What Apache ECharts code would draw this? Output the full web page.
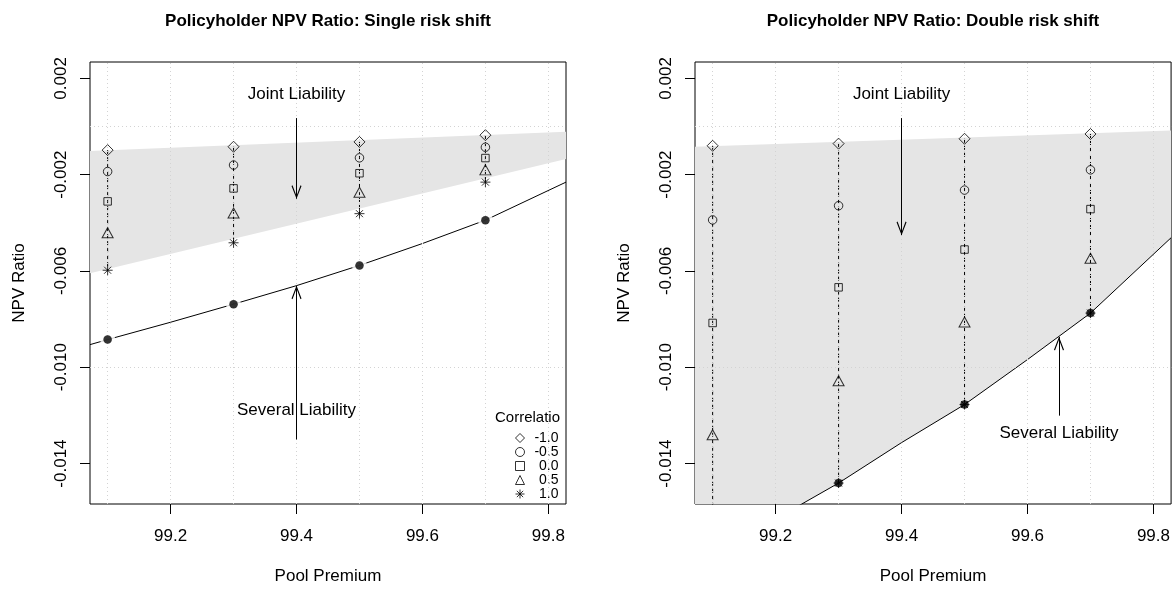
<!DOCTYPE html>
<html>
<head>
<meta charset="utf-8">
<title>Policyholder NPV Ratio</title>
<script src="https://cdn.jsdelivr.net/npm/echarts@6/dist/echarts.min.js"></script>
<style>
  html, body { margin: 0; padding: 0; background: #fff; }
  #chart { width: 1173px; height: 590px; }
</style>
</head>
<body>
<div id="chart"></div>
<script>
// pool premiums where the ratios were evaluated
var premiums = [99.1, 99.3, 99.5, 99.7];
var corrLabels = ['-1.0', '-0.5', '0.0', '0.5', '1.0'];
var xTicks = [99.2, 99.4, 99.6, 99.8];
var yTicks = [0.002, -0.002, -0.006, -0.010, -0.014];
var xGrid = [99.1, 99.2, 99.3, 99.4, 99.5, 99.6, 99.7, 99.8];
var yGrid = [0, -0.005, -0.010, -0.015];

// single risk shift, one array per correlation
var singleM10 = [-0.00098, -0.00084, -0.00064, -0.00036];
var singleM05 = [-0.00187, -0.00160, -0.00130, -0.00086];
var single00 = [-0.00311, -0.00257, -0.00194, -0.00131];
var single05 = [-0.00441, -0.00359, -0.00273, -0.00180];
var single10 = [-0.00597, -0.00483, -0.00362, -0.00231];
var singleSeveral = [-0.00885, -0.00738, -0.00577, -0.00389];
var singleCurveX = [99.072, 99.1, 99.2, 99.3, 99.4, 99.5, 99.6, 99.7, 99.828];
var singleCurveY = [-0.00906, -0.00885, -0.00813, -0.00738, -0.00661, -0.00577, -0.00486, -0.00389, -0.00231];
// joint liability band (single)
var singleBandX = [99.072, 99.828];
var singleBandTop = [-0.00102, -0.00022];
var singleBandBottom = [-0.00609, -0.00135];

// double risk shift
var doubleM10 = [-0.00080, -0.00071, -0.00051, -0.00031];
var doubleM05 = [-0.00388, -0.00329, -0.00264, -0.00180];
var double00 = [-0.00816, -0.00668, -0.00511, -0.00343];
var double05 = [-0.01280, -0.01056, -0.00812, -0.00547];
var double10 = [-0.01850, -0.01481, -0.01155, -0.00775];
var doubleSeveral = [-0.01850, -0.01481, -0.01155, -0.00775];
var doubleCurveX = [99.2, 99.3, 99.4, 99.5, 99.6, 99.7, 99.828];
var doubleCurveY = [-0.01630, -0.01481, -0.01313, -0.01155, -0.00968, -0.00775, -0.00462];
var doubleBandX = [99.072, 99.828];
var doubleBandTop = [-0.00084, -0.00017];
var doubleBandBottomX = [99.072, 99.2, 99.3, 99.4, 99.5, 99.6, 99.7, 99.828];
var doubleBandBottomY = [-0.01630, -0.01630, -0.01481, -0.01313, -0.01155, -0.00968, -0.00775, -0.00462];

var xMin = 99.072, xMax = 99.828, yMin = -0.01568, yMax = 0.00268;

var FONT = 'Liberation Sans, Arial, Helvetica, sans-serif';
var starPath = 'path://M0,-5L0,5M-5,0L5,0M-3.5,-3.5L3.5,3.5M-3.5,3.5L3.5,-3.5';
var headPath = 'path://M0,-12.5L0.01,-12.5L0,-12.49Z M0,0L5,12L4,12.6L0,2.6L-4,12.6L-5,12Z';
var corrSymbols = [
  { symbol: 'diamond', size: 11 },
  { symbol: 'circle', size: 8.5 },
  { symbol: 'rect', size: 7.5 },
  { symbol: 'triangle', size: [11, 10] },
  { symbol: starPath, size: 10 }
];

function hollow() {
  return { color: 'rgba(0,0,0,0)', borderColor: '#000', borderWidth: 1 };
}

function panel(gi, p) {
  var out = [];
  var ax = { xAxisIndex: gi, yAxisIndex: gi };
  // grey band between the liability regimes
  out.push(Object.assign({
    type: 'custom', clip: true, silent: true, z: 1,
    data: [[99.5, -0.005]],
    renderItem: function (params, api) {
      var pts = [];
      for (var k = 0; k < p.topX.length; k++) pts.push(api.coord([p.topX[k], p.topY[k]]));
      for (var j = p.botX.length - 1; j >= 0; j--) pts.push(api.coord([p.botX[j], p.botY[j]]));
      var cs = params.coordSys;
      return {
        type: 'polygon', shape: { points: pts },
        style: { fill: '#e5e5e5' },
        clipPath: { type: 'rect', shape: { x: cs.x, y: cs.y, width: cs.width, height: cs.height } }
      };
    }
  }, ax));
  // dotted grid
  out.push(Object.assign({
    type: 'line', data: [], silent: true, z: 2,
    markLine: {
      silent: true, symbol: 'none', label: { show: false },
      lineStyle: { color: '#d3d3d3', type: [1, 3], width: 1 },
      data: xGrid.map(function (v) { return { xAxis: v }; })
        .concat(yGrid.map(function (v) { return { yAxis: v }; }))
    }
  }, ax));
  // dashed vertical connectors
  premiums.forEach(function (x, i) {
    out.push(Object.assign({
      type: 'line', silent: true, symbol: 'none', z: 3,
      data: p.corr.map(function (arr) { return [x, arr[i]]; }),
      lineStyle: { color: '#000', width: 1, type: [4, 3] }
    }, ax));
  });
  // several liability curve
  out.push(Object.assign({
    type: 'line', silent: true, symbol: 'none', z: 3,
    data: p.curveX.map(function (x, i) { return [x, p.curveY[i]]; }),
    lineStyle: { color: '#000', width: 1 }
  }, ax));
  if (p.ring) {
    out.push(Object.assign({
      type: 'scatter', silent: true, symbol: 'circle', symbolSize: 15, z: 4,
      data: premiums.map(function (x, i) { return [x, p.several[i]]; }),
      itemStyle: { color: '#fff' }
    }, ax));
  }
  out.push(Object.assign({
    type: 'scatter', silent: true, symbol: 'circle', symbolSize: 8.5, z: 5,
    data: premiums.map(function (x, i) { return [x, p.several[i]]; }),
    itemStyle: { color: '#000' }
  }, ax));
  // correlation markers
  p.corr.forEach(function (arr, c) {
    out.push(Object.assign({
      type: 'scatter', name: corrLabels[c], z: 6,
      symbol: corrSymbols[c].symbol, symbolSize: corrSymbols[c].size, symbolKeepAspect: true,
      data: premiums.map(function (x, i) { return [x, arr[i]]; }),
      itemStyle: hollow()
    }, ax));
  });
  // arrows and their labels
  out.push(Object.assign({
    type: 'line', data: [], silent: true, z: 7,
    markLine: {
      silent: true, symbol: ['none', headPath], symbolSize: [10, 27],
      label: { show: false },
      lineStyle: { color: '#000', width: 1, type: 'solid' },
      data: p.arrows.map(function (a) {
        return [{ coord: [a[0], a[1]] }, { coord: [a[0], a[2]] }];
      })
    },
    markPoint: {
      silent: true, symbol: 'circle', symbolSize: 0,
      label: { show: true, position: 'inside', formatter: '{b}', fontSize: 17, color: '#000', fontFamily: FONT },
      data: p.notes.map(function (n) { return { name: n[0], coord: [n[1], n[2]] }; })
    }
  }, ax));
  return out;
}

function xAx(gi) {
  return {
    type: 'value', gridIndex: gi, min: xMin, max: xMax, position: 'bottom',
    name: 'Pool Premium', nameLocation: 'middle', nameGap: 64,
    nameTextStyle: { fontSize: 17, color: '#000', fontFamily: FONT },
    axisLine: { show: false, onZero: false },
    axisTick: { show: true, length: 10, customValues: xTicks, lineStyle: { color: '#000' } },
    axisLabel: { customValues: xTicks, fontSize: 17, color: '#000', margin: 24, fontFamily: FONT,
      formatter: function (v) { return v.toFixed(1); } },
    splitLine: { show: false }
  };
}
function yAx(gi) {
  return {
    type: 'value', gridIndex: gi, min: yMin, max: yMax, position: 'left',
    name: 'NPV Ratio', nameLocation: 'middle', nameGap: 62,
    nameTextStyle: { fontSize: 17, color: '#000', fontFamily: FONT },
    axisLine: { show: false, onZero: false },
    axisTick: { show: true, length: 10, customValues: yTicks, lineStyle: { color: '#000' } },
    axisLabel: { customValues: yTicks, rotate: 90, fontSize: 17, color: '#000', margin: 20, fontFamily: FONT,
      formatter: function (v) { return v.toFixed(3); } },
    splitLine: { show: false }
  };
}

var series = panel(0, {
  corr: [singleM10, singleM05, single00, single05, single10],
  several: singleSeveral, curveX: singleCurveX, curveY: singleCurveY,
  topX: singleBandX, topY: singleBandTop, botX: singleBandX, botY: singleBandBottom,
  ring: true,
  arrows: [[99.4, 0.00035, -0.0030], [99.4, -0.0130, -0.00661]],
  notes: [['Joint Liability', 99.4, 0.00135], ['Several Liability', 99.4, -0.0118]]
}).concat(panel(1, {
  corr: [doubleM10, doubleM05, double00, double05, double10],
  several: doubleSeveral, curveX: doubleCurveX, curveY: doubleCurveY,
  topX: doubleBandX, topY: doubleBandTop, botX: doubleBandBottomX, botY: doubleBandBottomY,
  ring: false,
  arrows: [[99.4, 0.00035, -0.00451], [99.65, -0.01201, -0.00874]],
  notes: [['Joint Liability', 99.4, 0.00135], ['Several Liability', 99.65, -0.01276]]
}));

var chart = echarts.init(document.getElementById('chart'), null, { renderer: 'canvas' });
chart.setOption({
  animation: false,
  backgroundColor: '#fff',
  textStyle: { fontFamily: FONT },
  title: [
    { text: 'Policyholder NPV Ratio: Single risk shift', left: 328, top: 13, textAlign: 'center', padding: 0,
      textStyle: { fontSize: 17, fontWeight: 'bold', color: '#000', fontFamily: FONT } },
    { text: 'Policyholder NPV Ratio: Double risk shift', left: 933, top: 13, textAlign: 'center', padding: 0,
      textStyle: { fontSize: 17, fontWeight: 'bold', color: '#000', fontFamily: FONT } }
  ],
  legend: {
    data: corrLabels, orient: 'vertical', left: 515, top: 431, padding: 0,
    itemWidth: 9, itemHeight: 9, itemGap: 0, selectedMode: false,
    itemStyle: { borderWidth: 1, borderColor: '#000', color: 'rgba(0,0,0,0)' },
    textStyle: { fontSize: 14, color: '#000', fontFamily: FONT, lineHeight: 14,
      rich: { a: { width: 29, align: 'right', fontSize: 14, lineHeight: 14 } } },
    formatter: function (n) { return '{a|' + n + '}'; }
  },
  graphic: [{
    type: 'text', left: 495, top: 410, silent: true,
    style: { text: 'Correlation', fontSize: 15, fill: '#000', fontFamily: FONT,
      width: 71, overflow: 'truncate', ellipsis: '' }
  }],
  grid: [
    { left: 90, top: 62, width: 476, height: 446, show: true, borderColor: '#000', borderWidth: 1, backgroundColor: 'transparent' },
    { left: 695, top: 62, width: 477, height: 446, show: true, borderColor: '#000', borderWidth: 1, backgroundColor: 'transparent' }
  ],
  xAxis: [xAx(0), xAx(1)],
  yAxis: [yAx(0), yAx(1)],
  series: series
});
</script>
</body>
</html>
